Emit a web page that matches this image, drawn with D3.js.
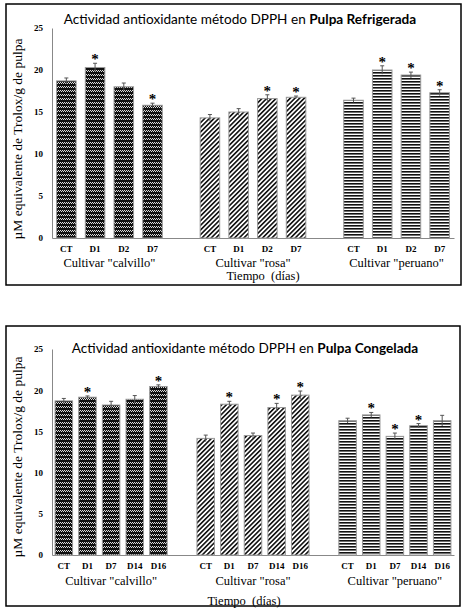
<!DOCTYPE html>
<html>
<head>
<meta charset="utf-8">
<script src="https://cdn.jsdelivr.net/npm/d3@7"></script>
<style>
  body { margin: 0; background: #fff; }
  text { white-space: pre; }
</style>
</head>
<body>
<div id="chart"></div>
<script>
// categorias
const cultivars = ['Cultivar "calvillo"', 'Cultivar "rosa"', 'Cultivar "peruano"'];
const yTicks = [0, 5, 10, 15, 20, 25];

// Pulpa Refrigerada
const refrigDays = ["CT", "D1", "D2", "D7"];
const refrigValues = [
    [18.7, 20.3, 18.0, 15.8],
    [14.3, 15.0, 16.6, 16.75],
    [16.4, 20.0, 19.4, 17.3]
];
const refrigErrors = [
    [0.35, 0.5, 0.45, 0.25],
    [0.4, 0.4, 0.45, 0.15],
    [0.25, 0.5, 0.35, 0.35]
];
const refrigStars = [
    [0, 1, 0, 1],
    [0, 0, 1, 1],
    [0, 1, 1, 1]
];

// Pulpa Congelada
const frozenDays = ["CT", "D1", "D7", "D14", "D16"];
const frozenValues = [
    [18.7, 19.15, 18.2, 18.9, 20.45],
    [14.15, 18.3, 14.5, 17.9, 19.4],
    [16.3, 17.0, 14.4, 15.7, 16.3]
];
const frozenErrors = [
    [0.3, 0.15, 0.45, 0.45, 0.2],
    [0.4, 0.35, 0.3, 0.5, 0.5],
    [0.3, 0.3, 0.4, 0.25, 0.65]
];
const frozenStars = [
    [0, 1, 0, 0, 1],
    [0, 1, 0, 1, 1],
    [0, 1, 1, 1, 0]
];

const width = 466, height = 611;
const svg = d3.select("#chart").append("svg")
    .attr("width", width)
    .attr("height", height);

const serif = "'Liberation Serif', 'Times New Roman', serif";
const sans = "Lato, 'Open Sans', sans-serif";

// Patrones de relleno
const defs = svg.append("defs");

const pCal = defs.append("pattern")
    .attr("id", "pat-calvillo")
    .attr("patternUnits", "userSpaceOnUse")
    .attr("width", 4).attr("height", 4);
pCal.append("rect").attr("width", 4).attr("height", 4).attr("fill", "#111");
[[0, 2], [2, 2], [1, 3], [3, 3]].forEach(p => {
    pCal.append("rect").attr("x", p[0]).attr("y", p[1])
        .attr("width", 1).attr("height", 1).attr("fill", "#ddd");
});

const pRosa = defs.append("pattern")
    .attr("id", "pat-rosa")
    .attr("patternUnits", "userSpaceOnUse")
    .attr("width", 3.3).attr("height", 10)
    .attr("patternTransform", "rotate(45)");
pRosa.append("rect").attr("width", 3.3).attr("height", 10).attr("fill", "#fff");
pRosa.append("rect").attr("width", 1.6).attr("height", 10).attr("fill", "#111");

const pPer = defs.append("pattern")
    .attr("id", "pat-peruano")
    .attr("patternUnits", "userSpaceOnUse")
    .attr("width", 10).attr("height", 3);
pPer.append("rect").attr("width", 10).attr("height", 3).attr("fill", "#fff");
pPer.append("rect").attr("width", 10).attr("height", 1.6).attr("fill", "#111");

const fills = ["url(#pat-calvillo)", "url(#pat-rosa)", "url(#pat-peruano)"];

function drawPanel(cfg) {
    const g = svg.append("g");

    // marco
    g.append("rect")
        .attr("x", cfg.frame[0]).attr("y", cfg.frame[1])
        .attr("width", cfg.frame[2]).attr("height", cfg.frame[3])
        .attr("fill", "none").attr("stroke", "#000").attr("stroke-width", 1.5);

    // slots: dias por cultivar, con un hueco entre grupos
    const slots = [];
    cultivars.forEach((c, gi) => {
        cfg.days.forEach((d, di) => slots.push(gi + "-" + di));
        if (gi < cultivars.length - 1) slots.push("gap" + gi);
    });

    const x = d3.scaleBand()
        .domain(slots)
        .range([52, 454])
        .paddingInner(cfg.padInner)
        .paddingOuter(cfg.padOuter);

    const y = d3.scaleLinear().domain([0, 25]).range([cfg.y0, cfg.y25]);

    // eje Y
    const yAxis = g.append("g")
        .attr("transform", "translate(52,0)")
        .call(d3.axisLeft(y).tickValues(yTicks).tickSize(0).tickPadding(9));
    yAxis.select(".domain").attr("stroke", "#888");
    yAxis.selectAll("text")
        .style("font-family", serif)
        .style("font-weight", "bold")
        .style("font-size", "9px")
        .attr("fill", "#000");

    // eje X
    const xAxis = g.append("g")
        .attr("transform", `translate(0,${cfg.y0})`)
        .call(d3.axisBottom(x).tickSize(0).tickPadding(8)
            .tickFormat(k => k.startsWith("gap") ? "" : cfg.days[+k.split("-")[1]]));
    xAxis.select(".domain").attr("stroke", "#888");
    xAxis.selectAll("text")
        .style("font-family", serif)
        .style("font-weight", "bold")
        .style("font-size", "9px")
        .attr("fill", "#000");

    const data = [];
    cultivars.forEach((c, gi) => {
        cfg.days.forEach((d, di) => {
            data.push({
                key: gi + "-" + di, group: gi,
                value: cfg.values[gi][di],
                err: cfg.errors[gi][di],
                star: cfg.stars[gi][di]
            });
        });
    });

    // barras
    g.selectAll(".bar")
        .data(data)
        .enter()
        .append("rect")
        .attr("class", "bar")
        .attr("x", d => x(d.key))
        .attr("y", d => y(d.value))
        .attr("width", x.bandwidth())
        .attr("height", d => y(0) - y(d.value))
        .attr("fill", d => fills[d.group])
        .attr("stroke", "#999")
        .attr("stroke-width", 1);

    // barras de error
    const cx = d => x(d.key) + x.bandwidth() / 2;
    g.selectAll(".err")
        .data(data)
        .enter()
        .append("path")
        .attr("class", "err")
        .attr("d", d => {
            const t = y(d.value + d.err), b = y(d.value - d.err);
            return `M${cx(d)},${b}V${t}M${cx(d) - 2},${t}H${cx(d) + 2}`;
        })
        .attr("stroke", "#555")
        .attr("stroke-width", 1)
        .attr("fill", "none");

    // asteriscos
    g.selectAll(".star")
        .data(data.filter(d => d.star))
        .enter()
        .append("text")
        .attr("class", "star")
        .attr("x", cx)
        .attr("y", d => y(d.value + d.err) + 1)
        .attr("text-anchor", "middle")
        .style("font-family", serif)
        .style("font-weight", "bold")
        .style("font-size", "15px")
        .text("*");

    // nombres de cultivar
    cultivars.forEach((c, gi) => {
        const first = x(gi + "-0");
        const last = x(gi + "-" + (cfg.days.length - 1)) + x.bandwidth();
        g.append("text")
            .attr("x", (first + last) / 2)
            .attr("y", cfg.groupY)
            .attr("text-anchor", "middle")
            .style("font-family", serif)
            .style("font-size", "12.5px")
            .text(c);
    });

    // Tiempo (días)
    g.append("text")
        .attr("x", cfg.timeX)
        .attr("y", cfg.timeY)
        .attr("text-anchor", "middle")
        .style("font-family", serif)
        .style("font-size", "12.5px")
        .text("Tiempo  (días)");

    // etiqueta eje Y
    g.append("text")
        .attr("transform", `translate(22,${cfg.yLabelY}) rotate(-90)`)
        .attr("text-anchor", "middle")
        .style("font-family", serif)
        .style("font-size", "13.5px")
        .text("µM equivalente de Trolox/g de pulpa");

    // titulo
    const title = g.append("text")
        .attr("x", cfg.titleX)
        .attr("y", cfg.titleY)
        .attr("text-anchor", "middle")
        .style("font-family", sans)
        .style("font-size", "13.6px");
    title.append("tspan").text("Actividad antioxidante método DPPH en ");
    title.append("tspan").style("font-weight", "bold").text(cfg.titleBold);
}

drawPanel({
    frame: [6, 4, 455, 281],
    days: refrigDays,
    values: refrigValues,
    errors: refrigErrors,
    stars: refrigStars,
    padInner: 0.32,
    padOuter: 0.16,
    y0: 238, y25: 28,
    groupY: 267,
    timeX: 263, timeY: 280,
    yLabelY: 139,
    titleX: 240, titleY: 24,
    titleBold: "Pulpa Refrigerada"
});

drawPanel({
    frame: [6, 326, 454, 280],
    days: frozenDays,
    values: frozenValues,
    errors: frozenErrors,
    stars: frozenStars,
    padInner: 0.26,
    padOuter: 0.13,
    y0: 555, y25: 349,
    groupY: 585,
    timeX: 244, timeY: 605,
    yLabelY: 457,
    titleX: 245, titleY: 353,
    titleBold: "Pulpa Congelada"
});
</script>
</body>
</html>
